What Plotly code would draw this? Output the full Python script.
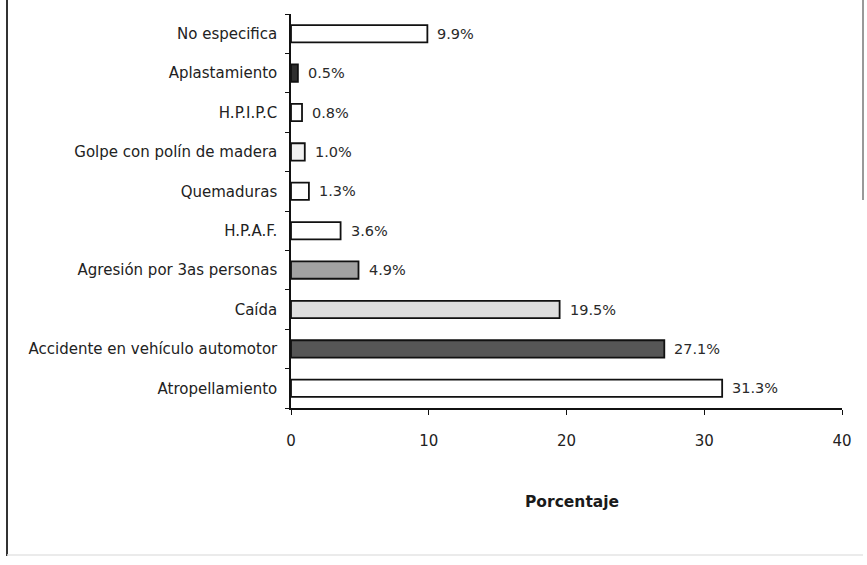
import plotly.graph_objects as go

# Causas de lesión (de abajo hacia arriba)
causas = [
    "Atropellamiento",
    "Accidente en vehículo automotor",
    "Caída",
    "Agresión por 3as personas",
    "H.P.A.F.",
    "Quemaduras",
    "Golpe con polín de madera",
    "H.P.I.P.C",
    "Aplastamiento",
    "No especifica",
]
porcentajes = [31.3, 27.1, 19.5, 4.9, 3.6, 1.3, 1.0, 0.8, 0.5, 9.9]
etiquetas = ["31.3%", "27.1%", "19.5%", "4.9%", "3.6%", "1.3%", "1.0%", "0.8%", "0.5%", "9.9%"]
rellenos = ["#ffffff", "#565656", "#dedede", "#a2a2a2", "#ffffff",
            "#ffffff", "#f1f1f1", "#ffffff", "#2e2e2e", "#ffffff"]

W, H = 867, 565
L, R, T, B = 291, 842, 14, 408
FUENTE = "DejaVu Sans, Verdana, sans-serif"


def px_x(p):
    return (p - L) / (R - L)


def px_y(p):
    return (B - p) / (B - T)


fig = go.Figure()
fig.add_trace(go.Bar(
    x=porcentajes,
    y=causas,
    orientation="h",
    width=0.44,
    marker=dict(color=rellenos, line=dict(color="#111111", width=1.8)),
    hoverinfo="skip",
))

for v, c, t in zip(porcentajes, causas, etiquetas):
    fig.add_annotation(
        x=v, y=c, text=t, showarrow=False, xanchor="left", xshift=8,
        font=dict(family=FUENTE, size=14.5, color="#2a2a2a"),
    )

fig.add_annotation(
    x=px_x(572), y=px_y(502), xref="paper", yref="paper", text="Porcentaje",
    showarrow=False, xanchor="center", yanchor="middle",
    font=dict(family=FUENTE, size=15.5, color="#1a1a1a", weight="bold"),
)

# marco de la figura
fig.add_shape(type="line", xref="paper", yref="paper",
              x0=px_x(7), x1=px_x(7), y0=px_y(0), y1=px_y(556),
              line=dict(color="#333333", width=2))
fig.add_shape(type="line", xref="paper", yref="paper",
              x0=px_x(863), x1=px_x(863), y0=px_y(0), y1=px_y(200),
              line=dict(color="#777777", width=1.5))
fig.add_shape(type="line", xref="paper", yref="paper",
              x0=px_x(7), x1=px_x(863), y0=px_y(555), y1=px_y(555),
              line=dict(color="#e4e4e4", width=1.5))

fig.update_layout(
    width=W, height=H,
    margin=dict(l=L, r=W - R, t=T, b=H - B),
    paper_bgcolor="white", plot_bgcolor="white",
    showlegend=False,
    font=dict(family=FUENTE, size=14, color="#222222"),
)
fig.update_xaxes(
    range=[0, 40], tickvals=[0, 10, 20, 30, 40],
    showgrid=False, zeroline=False,
    showline=True, linecolor="#111111", linewidth=1.5,
    ticks="outside", ticklen=5, tickcolor="#111111",
    ticklabelstandoff=13,
    tickfont=dict(family=FUENTE, size=15, color="#222222"),
)
fig.update_yaxes(
    categoryorder="array", categoryarray=causas,
    range=[-0.5, 9.5],
    showgrid=False, zeroline=False,
    showline=True, linecolor="#111111", linewidth=1.5,
    ticks="outside", ticklen=4, tickcolor="#111111", tickson="boundaries",
    ticklabelstandoff=9,
    tickfont=dict(family=FUENTE, size=15, color="#222222"),
)

fig.write_html("out.html")
